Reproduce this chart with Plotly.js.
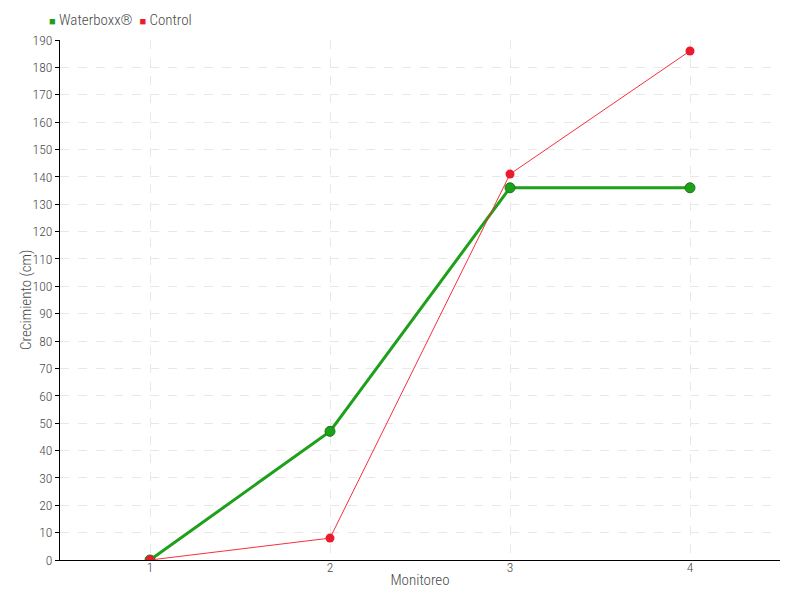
<!DOCTYPE html>
<html><head><meta charset="utf-8">
<script src="https://cdn.plot.ly/plotly-3.0.1.min.js"></script>
<style>body{margin:0;background:#fff}</style>
</head><body>
<div id="chart" style="width:800px;height:600px"></div>
<script>
const monitoreo = [1, 2, 3, 4];
const waterboxx = [0, 47, 136, 136];
const control = [0, 8, 141, 186];
const yTicks = [0,10,20,30,40,50,60,70,80,90,100,110,120,130,140,150,160,170,180,190];
const seriesNames = ['Waterboxx®', 'Control'];
const seriesColors = ['#1fa01a', '#ea1c2c'];
const yTitle = 'Crecimiento (cm)';

const font = {family: 'Roboto Condensed, sans-serif', size: 15, color: '#4a4a4a', weight: 300};
const tickFont = {family: 'Roboto Condensed, sans-serif', size: 13.5, color: '#4a4a4a', weight: 300};

const traces = [
  {x: monitoreo, y: waterboxx, name: seriesNames[0], type: 'scatter', mode: 'lines+markers', showlegend: false,
   line: {color: seriesColors[0], width: 3},
   marker: {color: seriesColors[0], size: 10, line: {color: '#177a14', width: 1}}},
  {x: monitoreo, y: control, name: seriesNames[1], type: 'scatter', mode: 'lines+markers', showlegend: false,
   line: {color: '#f5303f', width: 1},
   marker: {color: seriesColors[1], size: 9}}
];

const legendText = seriesNames.map((n, i) =>
  '<span style="color:' + seriesColors[i] + ';font-size:11px">■</span> ' + n).join('  ');

const layout = {
  width: 800, height: 600,
  margin: {l: 60, r: 20, t: 40, b: 40},
  paper_bgcolor: '#fff', plot_bgcolor: '#fff',
  font: font,
  showlegend: false,
  annotations: [
    {xref: 'paper', yref: 'paper', x: 0, y: 1.0, xanchor: 'left', yanchor: 'bottom', yshift: 9, xshift: -13,
     showarrow: false, text: legendText, font: font},
    {xref: 'paper', yref: 'paper', x: 0, y: 0.5, xanchor: 'center', yanchor: 'middle', xshift: -34,
     textangle: -90, showarrow: false, text: yTitle, font: font}
  ],
  xaxis: {range: [0.5, 4.5], tickvals: monitoreo, ticktext: monitoreo.map(String),
          showgrid: true, gridcolor: '#e8e8e8', griddash: 'dash', gridwidth: 1,
          showline: true, linecolor: '#000', linewidth: 1, ticks: '', ticklabelstandoff: -5,
          zeroline: false, tickfont: tickFont,
          title: {text: 'Monitoreo', font: font, standoff: 0}},
  yaxis: {range: [0, 190], tickvals: yTicks, ticktext: yTicks.map(String),
          showgrid: true, gridcolor: '#e8e8e8', griddash: 'dash', gridwidth: 1,
          showline: true, linecolor: '#000', linewidth: 1, ticks: 'outside', ticklen: 4, tickcolor: '#000',
          zeroline: false, tickfont: tickFont, automargin: false}
};

Plotly.newPlot('chart', traces, layout, {displayModeBar: false});
</script>
</body></html>
